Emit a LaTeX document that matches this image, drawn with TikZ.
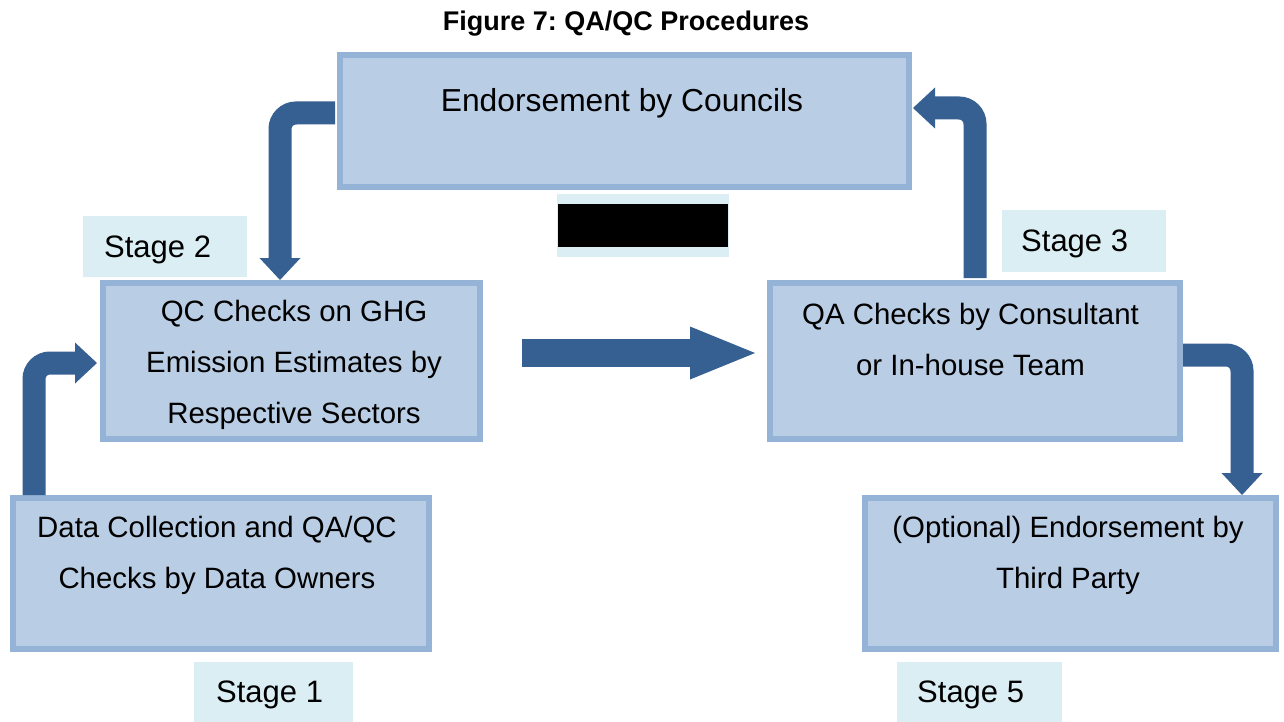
\documentclass[tikz,border=0pt]{standalone}
\usepackage{fontspec}
\setmainfont{Liberation Sans}
\usetikzlibrary{arrows.meta}
\definecolor{boxfill}{HTML}{B9CDE5}
\definecolor{boxline}{HTML}{95B3D7}
\definecolor{stagefill}{HTML}{DBEEF4}
\definecolor{flowblue}{HTML}{366092}
\frenchspacing

\begin{document}
\begin{tikzpicture}[x=1pt,y=-1pt,
  procbox/.style={draw=boxline, fill=boxfill, line width=6pt, inner sep=0pt, outer sep=3pt},
  boxtext/.style={font=\fontsize{29.4}{51}\selectfont, align=center, inner sep=0pt},
  stagebox/.style={fill=stagefill, inner sep=0pt, outer sep=0pt},
  stagetext/.style={font=\fontsize{31}{36}\selectfont, inner sep=0pt, anchor=base west},
  bent/.style={draw=flowblue, line width=23pt, rounded corners=16pt,
    -{Triangle[length=22pt,width=41pt,line width=0pt]}},
  straight/.style={draw=flowblue, line width=28pt,
    -{Triangle[length=65pt,width=53pt,line width=0pt]}}
]
\useasboundingbox (0,0) rectangle (1284,722);
\fill[white] (0,0) rectangle (1284,722);

% title
\node[inner sep=0pt, anchor=base, font=\fontsize{27}{32}\selectfont\bfseries] (title) at (626,31)
  {Figure 7: QA/QC Procedures};

% process boxes
\node[procbox, minimum width=569pt, minimum height=132pt] (end) at (624.5,121) {};
\node[procbox, minimum width=377pt, minimum height=156pt] (qc)  at (291.5,361) {};
\node[procbox, minimum width=416pt, minimum height=151pt] (dc)  at (221,573.5) {};
\node[procbox, minimum width=410pt, minimum height=156pt] (qa)  at (975,361) {};
\node[procbox, minimum width=411pt, minimum height=151pt] (op)  at (1070.5,573.5) {};

% box texts
\node[boxtext, font=\fontsize{31.8}{51}\selectfont, anchor=base] (endt) at (622,112) {Endorsement by Councils};
\node[boxtext] (qct) at (294,364.5) {QC Checks on GHG\\Emission Estimates by\\Respective Sectors};
\node[boxtext] (dct) at (217,555) {Data Collection and QA/QC\\Checks by Data Owners};
\node[boxtext] (qat) at (970.5,339.5) {QA Checks by Consultant\\or In-house Team};
\node[boxtext] (opt) at (1068,555) {(Optional) Endorsement by\\Third Party};

% stage labels
\node[stagebox, minimum width=164pt, minimum height=61pt] (s2) at (165,246.5) {};
\node[stagetext] (s2t) at ([xshift=21pt,yshift=-10.5pt]s2.west) {Stage 2};
\node[stagebox, minimum width=164pt, minimum height=62pt] (s3) at (1084,241) {};
\node[stagetext] (s3t) at ([xshift=19pt,yshift=-10.5pt]s3.west) {Stage 3};
\node[stagebox, minimum width=159pt, minimum height=60pt] (s1) at (273.5,692) {};
\node[stagetext] (s1t) at ([xshift=22pt,yshift=-10.5pt]s1.west) {Stage 1};
\node[stagebox, minimum width=165pt, minimum height=60pt] (s5) at (979.5,692) {};
\node[stagetext] (s5t) at ([xshift=20pt,yshift=-10.5pt]s5.west) {Stage 5};
\node[stagebox, minimum width=172pt, minimum height=63pt] (s4) at (643,225.5) {};
\node[fill=black, inner sep=0pt, minimum width=170pt, minimum height=43pt] (s4mask) at (s4) {};

% flow arrows
\draw[bent] ([xshift=24pt]dc.north west) |- ([xshift=-3pt,yshift=-2pt]qc.west);
\draw[bent] ([xshift=-2pt,yshift=8pt]end.west) -| ([xshift=-11.5pt]qc.north);
\draw[bent] ([yshift=2pt]qa.north) |- ([xshift=1pt,yshift=13pt]end.east);
\draw[bent] ([yshift=6pt]qa.east) -| ([xshift=171.5pt]op.north);
\draw[straight] ([xshift=39pt,yshift=8pt]qc.east) -- ([xshift=-12pt,yshift=8pt]qa.west);
\end{tikzpicture}
\end{document}
